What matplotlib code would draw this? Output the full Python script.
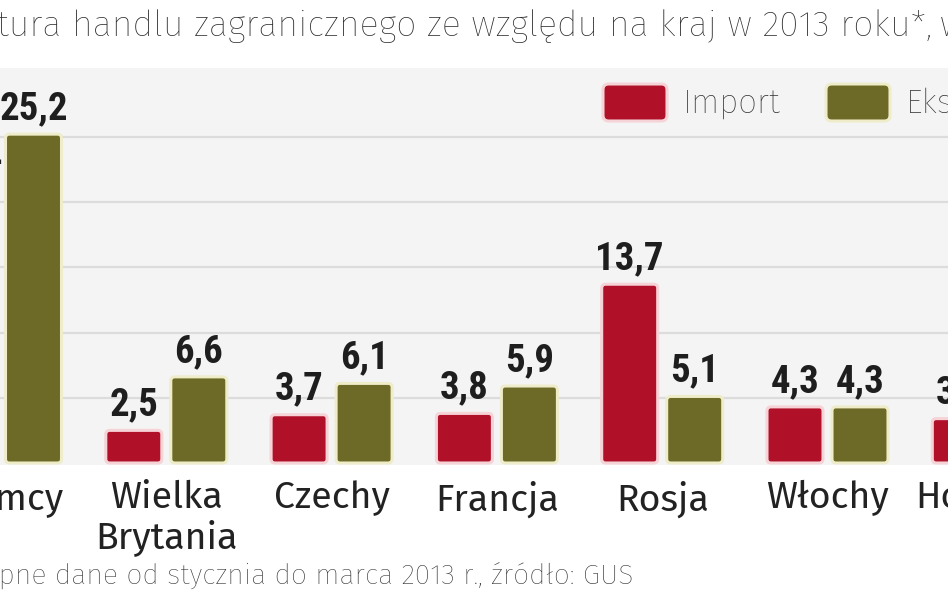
import matplotlib
matplotlib.use("Agg")
import matplotlib.pyplot as plt
from matplotlib.patches import FancyBboxPatch

# Data (share of foreign trade, %)
categories = ["Niemcy", "Wielka\nBrytania", "Czechy", "Francja", "Rosja", "Włochy", "Holandia"]
imports = [21.4, 2.5, 3.7, 3.8, 13.7, 4.3, 3.4]
exports = [25.2, 6.6, 6.1, 5.9, 5.1, 4.3, 4.3]
series_names = ["Import", "Eksport"]

title = "Struktura handlu zagranicznego ze względu na kraj w 2013 roku*,"
title_tail = "w %"
footnote = "*Wstępne dane od stycznia do marca 2013 r., źródło: GUS"

RED = "#b01129"
OLIVE = "#6c6a26"
RED_EDGE = "#f6d3d6"
OLIVE_EDGE = "#efecca"
NUM_FONT = "Roboto Condensed"
TXT_FONT = "Fira Sans"

W, H = 948, 593
fig = plt.figure(figsize=(W / 100, H / 100), dpi=100)
fig.patch.set_facecolor("white")


def fx(x):
    return x / W


def fy(y):
    return 1 - y / H


# axes: grey plot area from y=68 to y=465 px, full width
ax = fig.add_axes([0, fy(465), 1, fy(68) - fy(465)])
ax.set_facecolor("#f4f4f4")
for s in ax.spines.values():
    s.set_visible(False)

for g in [5, 10, 15, 20, 25]:
    ax.axhline(g, color="#dcdcdc", lw=1.6, zorder=1)

group_px = 165.3
x = list(range(len(categories)))
off = 32.5 / group_px
bw = 56 / group_px
aspect = group_px / 13.05
r = 4 / group_px

for vals, shift, col, edge in [(imports, -off, RED, RED_EDGE), (exports, off, OLIVE, OLIVE_EDGE)]:
    bars = ax.bar([i + shift for i in x], vals, width=bw, color=col, zorder=2)
    for b, v in zip(bars, vals):
        b.set_visible(False)
        p = FancyBboxPatch((b.get_x(), b.get_y()), b.get_width(), b.get_height(),
                           boxstyle=f"round,pad=0,rounding_size={r}",
                           mutation_aspect=aspect, fc=col, ec=edge, lw=2.2, zorder=3)
        ax.add_patch(p)
        ax.annotate(f"{v:.1f}".replace(".", ","), (b.get_x() + b.get_width() / 2, v),
                    xytext=(0, 5), textcoords="offset points", ha="center", va="bottom",
                    fontsize=28, fontweight="bold", family=NUM_FONT, color="#1e1e1e",
                    annotation_clip=False)

# category names under the groups (as annotations so the cut-off last one still shows)
for i, name in zip(x, categories):
    ax.annotate(name, (i, 0), xycoords=("data", "axes fraction"), xytext=(0, -11),
                textcoords="offset points", ha="center", va="top", fontsize=27,
                family=TXT_FONT, color="#222222", linespacing=1.1, annotation_clip=False)

ax.set_xticks([])
ax.set_yticks([])
ax.set_xlim(-1 / group_px, (W - 1) / group_px)
ax.set_ylim(-2 / 13.05, (463 - 68) / 13.05)

# legend drawn in figure pixels
for (x0, name, col, edge) in [(603, series_names[0], RED, RED_EDGE), (826, series_names[1], OLIVE, OLIVE_EDGE)]:
    sw = FancyBboxPatch((fx(x0), fy(121)), fx(64), fy(84) - fy(121),
                        boxstyle="round,pad=0,rounding_size=0.006",
                        mutation_aspect=W / H, transform=fig.transFigure,
                        fc=col, ec=edge, lw=2.2)
    fig.patches.append(sw)
    fig.text(fx(x0 + 80), fy(103), name, fontsize=24, family=TXT_FONT, fontweight="light",
             color="#2e2e2e", va="center", ha="left")

fig.text(fx(932), fy(36), title, fontsize=25.8, family=TXT_FONT, fontweight="light",
         color="#262626", ha="right", va="baseline")
fig.text(fx(940), fy(36), title_tail, fontsize=25.8, family=TXT_FONT, fontweight="light",
         color="#262626", ha="left", va="baseline")
fig.text(fx(633), fy(584), footnote, fontsize=20.5, family=TXT_FONT, fontweight="light",
         color="#2e2e2e", ha="right", va="baseline")

fig.savefig("out.png", dpi=100, facecolor="white")
